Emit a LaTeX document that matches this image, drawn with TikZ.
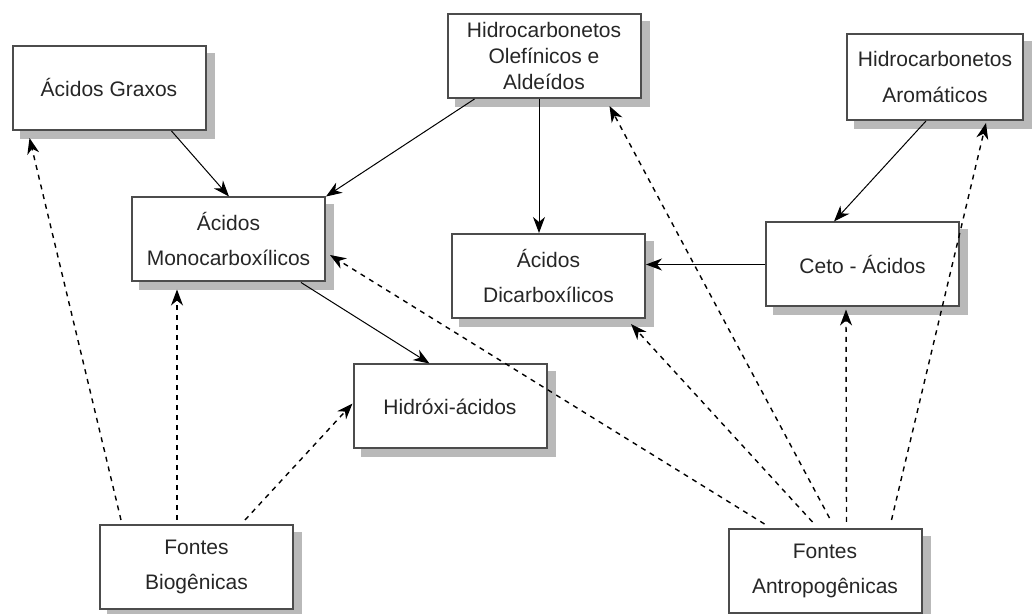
\documentclass[tikz,border=0pt]{standalone}
\usepackage{fontspec}
\setmainfont{Liberation Sans}
\usetikzlibrary{arrows.meta,backgrounds}
\begin{document}
\begin{tikzpicture}[x=0.5pt, y=-0.5pt,
    box/.style={draw=black!70, line width=1pt, fill=white, minimum width=96.5pt, minimum height=42pt,
      align=center, text=black!85, font=\fontsize{10.5}{17.5}\selectfont},
    flow/.style={-{Stealth[length=8pt, width=6pt, inset=2.5pt]}, line width=0.5pt},
    src/.style={-{Stealth[length=8pt, width=6pt, inset=2.5pt]}, line width=0.7pt, dash pattern=on 2.5pt off 2.5pt}]
    \useasboundingbox (0,0) rectangle (1035,614);
    \node (graxos) [box] at (109,88) {Ácidos Graxos};
    \node (olef) [box, font=\fontsize{10.5}{13}\selectfont] at (544,56) {Hidrocarbonetos\\Olefínicos e\\Aldeídos};
    \node (arom) [box, minimum width=88pt, minimum height=43pt] at (935,77) {Hidrocarbonetos\\Aromáticos};
    \node (mono) [box] at (228.5,239.5) {Ácidos\\Monocarboxílicos};
    \node (dicarb) [box] at (548.5,276) {Ácidos\\Dicarboxílicos};
    \node (ceto) [box] at (862.5,264.5) {Ceto - Ácidos};
    \node (hidroxi) [box] at (450,406.5) {Hidróxi-ácidos};
    \node (bio) [box] at (196.5,567) {Fontes\\Biogênicas};
    \node (antro) [box] at (825,571) {Fontes\\Antropogênicas};
    \begin{scope}[on background layer]
      \foreach \n in {graxos,olef,arom,mono,dicarb,ceto,hidroxi,bio,antro}
        \fill[gray!55] ([shift={(8,8)}]\n.south west) rectangle ([shift={(8,8)}]\n.north east);
    \end{scope}
    \draw[flow] ([xshift=80pt]graxos.south west) -- ([xshift=49pt]mono.north west);
    \draw[flow] ([xshift=14pt]olef.south west) -- (mono.north east);
    \draw[flow] ([xshift=-2.5pt]olef.south) -- ([xshift=-2.5pt]olef.south |- dicarb.north);
    \draw[flow] ([xshift=40pt]arom.south west) -- ([xshift=34.5pt]ceto.north west);
    \draw[flow] (ceto.west) -- (dicarb.east |- ceto.west);
    \draw[flow] ([xshift=-12.5pt]mono.south east) -- ([xshift=38.5pt]hidroxi.north west);
    \draw[src] ([xshift=11pt, yshift=2pt]bio.north west) -- ([xshift=9pt, yshift=-3.5pt]graxos.south west);
    \draw[src] ([xshift=39pt, yshift=2pt]bio.north west) -- ([xshift=23pt, yshift=-3.5pt]mono.south west);
    \draw[src] ([xshift=73pt, yshift=2pt]bio.north west) -- ([yshift=1.5pt]hidroxi.west);
    \draw[src] ([xshift=18.5pt, yshift=2pt]antro.north west) -- ([xshift=2pt, yshift=-7.75pt]mono.east);
    \draw[src] ([xshift=42.5pt, yshift=3pt]antro.north west) -- ([xshift=90pt, yshift=-2.5pt]dicarb.south west);
    \draw[src] ([xshift=51pt, yshift=5pt]antro.north west) -- ([xshift=81.5pt, yshift=-3.5pt]olef.south west);
    \draw[src] ([xshift=59.5pt, yshift=3pt]antro.north west) -- ([xshift=40.5pt, yshift=-1pt]ceto.south west);
    \draw[src] ([xshift=82pt, yshift=4pt]antro.north west) -- ([xshift=70pt, yshift=-1pt]arom.south west);
\end{tikzpicture}
\end{document}
